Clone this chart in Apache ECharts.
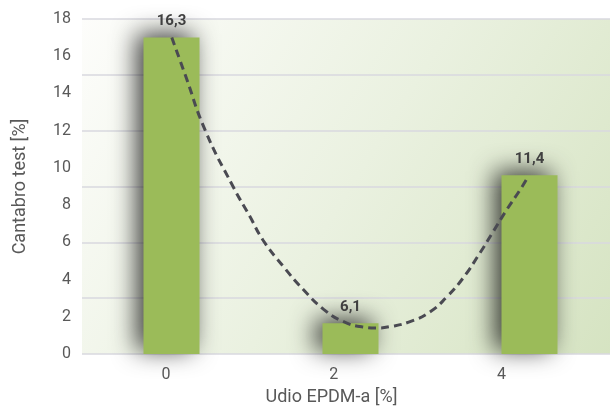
<!DOCTYPE html>
<html>
<head>
<meta charset="utf-8">
<script src="https://cdn.jsdelivr.net/npm/echarts@6/dist/echarts.min.js"></script>
<style>
html,body{margin:0;padding:0;background:#fff;}
#chart{width:610px;height:408px;}
</style>
</head>
<body>
<div id="chart"></div>
<script>
// Data
var categories = ['0', '2', '4'];
var barValues = [17.0, 1.65, 9.6];
var barLabels = ['16,3', '6,1', '11,4'];
var xTickValues = [0, 2, 4];
// dashed trend curve (x in EPDM % units)
var curveX = [0.07, 0.23, 0.47, 0.80, 1.00, 1.16, 1.40, 1.64, 1.88, 2.11, 2.35, 2.51, 2.67, 2.91, 3.15, 3.35, 3.54, 3.74, 3.90, 4.06, 4.22, 4.32];
var curveY = [17.0, 15.0, 12.0, 9.0, 7.4, 6.1, 4.7, 3.45, 2.4, 1.75, 1.45, 1.4, 1.47, 1.74, 2.27, 3.08, 4.07, 5.41, 6.57, 7.74, 8.81, 9.55];

var curveData = curveX.map(function (x, i) { return [x, curveY[i]]; });
var FONT = 'Roboto';

var chart = echarts.init(document.getElementById('chart'), null, {renderer: 'canvas'});
chart.setOption({
  animation: false,
  backgroundColor: '#ffffff',
  grid: {
    left: 82, top: 19, width: 537, height: 335,
    outerBoundsMode: 'none',
    containLabel: false,
    show: true, borderWidth: 0,
    backgroundColor: new echarts.graphic.LinearGradient(0, 0, 1, 1, [
      {offset: 0, color: '#fdfdfb'},
      {offset: 0.5, color: '#eaf1e0'},
      {offset: 1, color: '#d5e3c1'}
    ])
  },
  xAxis: [
    {
      type: 'category', data: categories,
      axisLine: {show: false}, axisTick: {show: false}, axisLabel: {show: false},
      splitLine: {show: false}
    },
    {
      type: 'value', min: -1, max: 5.4, position: 'bottom',
      axisLine: {show: false}, axisTick: {show: false},
      splitLine: {show: false},
      axisLabel: {customValues: xTickValues, color: '#595959', fontSize: 16, fontFamily: FONT, margin: 13},
      name: 'Udio EPDM-a [%]', nameLocation: 'middle', nameGap: 34,
      nameTextStyle: {color: '#595959', fontSize: 18, fontFamily: FONT, padding: [0, 38, 0, 0]}
    }
  ],
  yAxis: [
    {
      type: 'value', min: 0, max: 18, interval: 2,
      axisLine: {show: false}, axisTick: {show: false},
      splitLine: {show: false},
      axisLabel: {color: '#595959', fontSize: 16, fontFamily: FONT, margin: 11},
      name: 'Cantabro test [%]', nameLocation: 'middle', nameGap: 53, nameRotate: 90,
      nameTextStyle: {color: '#595959', fontSize: 18, fontFamily: FONT}
    },
    {
      type: 'value', min: 0, max: 18, interval: 3, position: 'left',
      axisLine: {show: false}, axisTick: {show: false}, axisLabel: {show: false},
      splitLine: {show: true, lineStyle: {color: '#d9d9df', width: 1.5}}
    }
  ],
  series: [
    {
      type: 'bar', xAxisIndex: 0, yAxisIndex: 0,
      data: barValues, barWidth: 56,
      itemStyle: {
        color: '#9bbb59',
        shadowBlur: 24, shadowColor: 'rgba(0,0,0,0.75)',
        shadowOffsetX: -7, shadowOffsetY: -4
      },
      label: {
        show: true, position: 'top', distance: 9,
        color: '#404040', fontSize: 15, fontWeight: 'bold', fontFamily: FONT,
        formatter: function (p) { return barLabels[p.dataIndex]; }
      }
    },
    {
      type: 'line', xAxisIndex: 1, yAxisIndex: 0,
      data: curveData, smooth: true, showSymbol: false, symbol: 'none',
      lineStyle: {color: '#4a4a52', width: 3, type: [8, 5]},
      z: 5
    }
  ]
});
</script>
</body>
</html>
